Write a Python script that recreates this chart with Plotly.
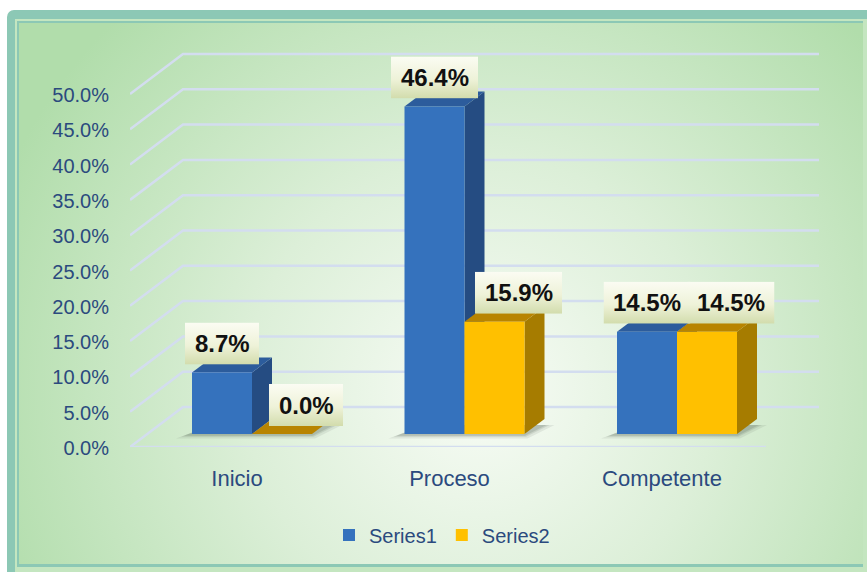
import base64
import plotly.graph_objects as go

# ---------------- data ----------------
categories = ["Inicio", "Proceso", "Competente"]
series_names = ["Series1", "Series2"]
series1 = [0.087, 0.464, 0.145]
series2 = [0.000, 0.159, 0.145]
y_ticks = [0.0, 0.05, 0.10, 0.15, 0.20, 0.25, 0.30, 0.35, 0.40, 0.45, 0.50]

# ---------------- styling / geometry ----------------
W, H = 867, 572
M_L, M_R, M_T, M_B = 130, 48, 40, 125
PLOT_W = W - M_L - M_R
PLOT_H = H - M_T - M_B
PX_X = 212.5          # pixels per category step
PX_Y = 706.0          # pixels per unit of value (1.0 = 100 %)
FIRST_CENTER_PX = 252  # pixel column of the first category centre
FLOOR_DROP_PX = 13     # floor front edge lies this far below the bar plane
WALL_DX_PX, WALL_DY_PX = 53, 40   # depth of the side wall / floor
BAR_DX_PX, BAR_DY_PX = 20, 15     # depth of each bar
BAR_W = 60 / PX_X

X_MIN = (M_L - FIRST_CENTER_PX) / PX_X
X_MAX = X_MIN + PLOT_W / PX_X
Y_MIN = -FLOOR_DROP_PX / PX_Y
Y_MAX = Y_MIN + PLOT_H / PX_Y

TEXT_BLUE = "#2b4a7e"
GRID = "#d3ddef"
FONT = "Liberation Sans"

COLORS = [
    dict(front="#3572bd", side="#254c82", top="#2c5c9c"),
    dict(front="#ffc000", side="#a67c00", top="#b88400"),
]
LABEL_XSHIFT = [0, 24]
LABEL_GAP_PX = 8
LABEL_H_PX = 42


def px_x(p):
    return p / PX_X


def px_y(p):
    return p / PX_Y


def svg_uri(svg):
    return "data:image/svg+xml;base64," + base64.b64encode(svg.encode()).decode()


def path(points):
    return "M " + " L ".join(f"{x:.5f},{y:.5f}" for x, y in points) + " Z"


# ---------------- background frame with radial fill ----------------
bg_svg = f"""<svg xmlns='http://www.w3.org/2000/svg' width='{W}' height='{H}' viewBox='0 0 {W} {H}' preserveAspectRatio='none'>
<defs>
<radialGradient id='g' gradientUnits='userSpaceOnUse' cx='480' cy='390' r='520'>
<stop offset='0' stop-color='#f8fcf6'/>
<stop offset='0.45' stop-color='#dcefd8'/>
<stop offset='1' stop-color='#b1ddab'/>
</radialGradient>
</defs>
<rect x='0' y='0' width='{W}' height='{H}' fill='#ffffff'/>
<rect x='7' y='10' width='{W + 20}' height='{H + 20}' rx='7' fill='#8cc8b5'/>
<rect x='15' y='19' width='{W - 2}' height='{H - 4}' fill='#c4e6c0'/>
<rect x='17' y='21' width='{W - 2 - 2 - 17}' height='{H - 4 - 21 - 1}' fill='#8cc8b5'/>
<rect x='19' y='23' width='{863 - 19}' height='{564 - 23}' fill='url(#g)'/>
</svg>"""

label_svg = """<svg xmlns='http://www.w3.org/2000/svg' width='100' height='42' viewBox='0 0 100 42' preserveAspectRatio='none'>
<defs><linearGradient id='l' x1='0' y1='0' x2='0' y2='1'>
<stop offset='0' stop-color='#fbfcf3'/><stop offset='0.55' stop-color='#eef2d8'/><stop offset='1' stop-color='#d2dcac'/>
</linearGradient></defs>
<rect x='0' y='0' width='100' height='42' fill='url(#l)'/>
</svg>"""

fig = go.Figure()

images = [dict(
    source=svg_uri(bg_svg), xref="paper", yref="paper",
    x=-M_L / PLOT_W, y=1 + M_T / PLOT_H,
    sizex=W / PLOT_W, sizey=H / PLOT_H,
    xanchor="left", yanchor="top", sizing="stretch", layer="below",
)]

shapes = []

# ---------------- walls: gridlines on side wall and back wall ----------------
wdx, wdy = px_x(WALL_DX_PX), px_y(WALL_DY_PX)
for t in y_ticks:
    y_front = t + Y_MIN
    y_back = y_front + wdy
    shapes.append(dict(type="path", xref="x", yref="y", layer="below",
                       path=f"M {X_MIN:.5f},{y_front:.5f} L {X_MIN + wdx:.5f},{y_back:.5f} L {X_MAX:.5f},{y_back:.5f}",
                       line=dict(color=GRID, width=2.5)))
# floor front edge
shapes.append(dict(type="line", xref="x", yref="y", layer="below",
                   x0=X_MIN, y0=Y_MIN, x1=X_MAX - wdx, y1=Y_MIN,
                   line=dict(color=GRID, width=2.5)))

# ---------------- soft floor shadows under each bar group ----------------
bdx, bdy = px_x(BAR_DX_PX), px_y(BAR_DY_PX)
for i in range(len(categories)):
    gx0 = i - BAR_W
    gx1 = i + BAR_W
    for grow, op in [(10, 0.10), (5, 0.14), (2, 0.18)]:
        pts = [
            (gx0 - px_x(6 + grow), -px_y(1 + grow * 0.35)),
            (gx1 + px_x(grow * 0.3), -px_y(1 + grow * 0.35)),
            (gx1 + bdx + px_x(grow), bdy * 0.6),
            (gx0 + bdx, bdy * 0.6),
        ]
        shapes.append(dict(type="path", xref="x", yref="y", layer="below",
                           path=path(pts), fillcolor="#4d5d4d", opacity=op,
                           line=dict(width=0)))

# ---------------- bar sides and tops (fronts are the bar traces) ----------------
all_series = [series1, series2]
offsets = [-BAR_W, 0.0]
for i in range(len(categories)):
    for s, vals in enumerate(all_series):
        v = vals[i]
        x0 = i + offsets[s]
        x1 = x0 + BAR_W
        side = [(x1, 0), (x1, v), (x1 + bdx, v + bdy), (x1 + bdx, bdy)]
        top = [(x0, v), (x1, v), (x1 + bdx, v + bdy), (x0 + bdx, v + bdy)]
        shapes.append(dict(type="path", xref="x", yref="y", layer="below",
                           path=path(side), fillcolor=COLORS[s]["side"],
                           line=dict(width=0)))
        shapes.append(dict(type="path", xref="x", yref="y", layer="below",
                           path=path(top), fillcolor=COLORS[s]["top"],
                           line=dict(width=0)))

# ---------------- bar fronts ----------------
for s, vals in enumerate(all_series):
    fig.add_trace(go.Bar(
        name=series_names[s],
        x=list(range(len(categories))),
        y=vals,
        base=0,
        offset=offsets[s],
        width=BAR_W,
        marker=dict(color=COLORS[s]["front"], line=dict(width=0)),
        hoverinfo="skip",
    ))

# ---------------- data labels ----------------
annotations = []
for s, vals in enumerate(all_series):
    for i, v in enumerate(vals):
        text = f"{v * 100:.1f}%"
        box_w = 13 * len(text) + 22
        cx = i + offsets[s] + BAR_W / 2 + px_x(LABEL_XSHIFT[s])
        images.append(dict(
            source=svg_uri(label_svg), xref="x", yref="y",
            x=cx - px_x(box_w / 2), y=v + px_y(LABEL_GAP_PX + LABEL_H_PX),
            sizex=px_x(box_w), sizey=px_y(LABEL_H_PX),
            xanchor="left", yanchor="top", sizing="stretch", layer="above",
        ))
        annotations.append(dict(
            x=cx, y=v, xref="x", yref="y", text=f"<b>{text}</b>",
            showarrow=False, xanchor="center", yanchor="middle",
            yshift=LABEL_GAP_PX + LABEL_H_PX / 2,
            font=dict(family=FONT, size=24, color="#111111"),
        ))

fig.update_layout(
    width=W, height=H,
    margin=dict(l=M_L, r=M_R, t=M_T, b=M_B, autoexpand=False),
    paper_bgcolor="rgba(0,0,0,0)",
    plot_bgcolor="rgba(0,0,0,0)",
    barmode="overlay",
    images=images,
    shapes=shapes,
    annotations=annotations,
    showlegend=True,
    legend=dict(
        orientation="h", x=(442 - M_L) / PLOT_W, xanchor="center",
        y=-(535 - (H - M_B)) / PLOT_H, yanchor="middle",
        bgcolor="rgba(0,0,0,0)", font=dict(family=FONT, size=20, color=TEXT_BLUE),
        itemwidth=30, traceorder="normal",
    ),
    xaxis=dict(
        range=[X_MIN, X_MAX], tickvals=list(range(len(categories))), ticktext=categories,
        showgrid=False, zeroline=False, showline=False, ticks="",
        tickfont=dict(family=FONT, size=22, color=TEXT_BLUE),
        ticklabelshift=-15, ticklabelstandoff=16, fixedrange=True,
    ),
    yaxis=dict(
        range=[Y_MIN, Y_MAX], tickvals=y_ticks, tickformat=".1%",
        showgrid=False, zeroline=False, showline=False, ticks="",
        tickfont=dict(family=FONT, size=20, color=TEXT_BLUE),
        ticklabelshift=14, ticklabelstandoff=20, fixedrange=True,
    ),
)

fig.write_html("out.html")
